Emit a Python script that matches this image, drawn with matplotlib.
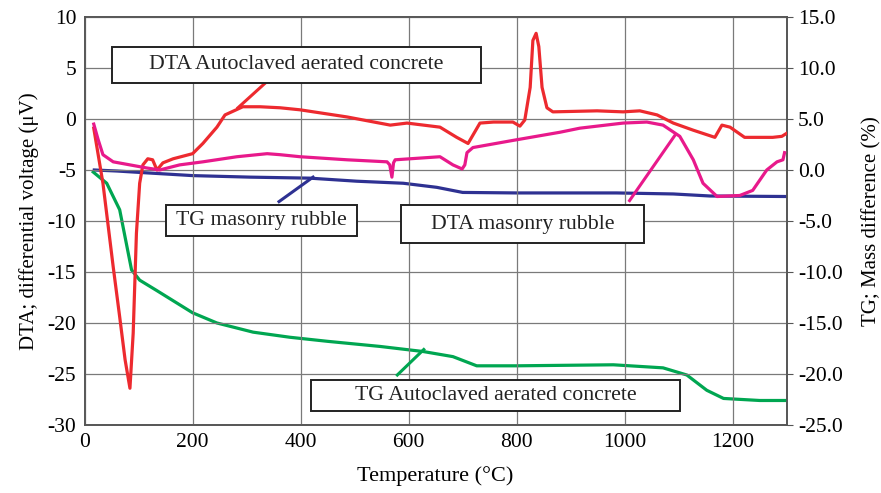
import matplotlib
matplotlib.use("Agg")
import matplotlib.pyplot as plt
from matplotlib.patches import Rectangle

# ---------------------------------------------------------------- data
# DTA Autoclaved aerated concrete (left axis, uV)
dta_aac_t = [17, 34, 53, 65, 75, 84, 90, 96, 102, 108, 117, 126, 134, 145, 164, 200, 219, 245,
             260, 293, 325, 362, 399, 486, 566, 597, 658, 689, 710, 732, 757, 793, 806, 815,
             825, 830, 836, 841, 847, 856, 867, 949, 997, 1028, 1060, 1090, 1127, 1167, 1180,
             1195, 1222, 1274, 1291, 1300]
dta_aac_v = [-0.9, -6.3, -14.5, -19.4, -23.6, -26.4, -21.0, -11.2, -6.3, -4.5, -3.9, -4.0, -5.0,
             -4.3, -3.9, -3.4, -2.4, -0.8, 0.4, 1.2, 1.2, 1.1, 0.9, 0.2, -0.6, -0.4, -0.8, -1.8,
             -2.4, -0.4, -0.3, -0.3, -0.7, -0.1, 3.1, 7.7, 8.4, 7.1, 3.1, 1.1, 0.7, 0.8, 0.7,
             0.8, 0.4, -0.4, -1.1, -1.8, -0.6, -0.8, -1.8, -1.8, -1.7, -1.4]

# DTA masonry rubble (left axis, uV)
dta_mr_t = [17, 25, 34, 53, 84, 115, 139, 176, 219, 282, 338, 362, 399, 486, 560, 565, 569, 572,
            575, 658, 682, 699, 704, 708, 719, 793, 880, 917, 997, 1041, 1071, 1102, 1127, 1145,
            1171, 1213, 1237, 1263, 1282, 1293, 1296]
dta_mr_v = [-0.5, -2.0, -3.5, -4.2, -4.5, -4.8, -5.0, -4.5, -4.2, -3.7, -3.4, -3.5, -3.7, -4.0,
            -4.2, -4.5, -5.7, -4.3, -4.0, -3.7, -4.5, -4.9, -4.5, -3.3, -2.8, -2.1, -1.3, -0.9,
            -0.4, -0.3, -0.6, -1.7, -4.0, -6.3, -7.6, -7.5, -7.0, -5.0, -4.2, -4.0, -3.3]

# TG masonry rubble (right axis, %)
tg_mr_t = [18, 60, 121, 200, 306, 417, 504, 590, 652, 700, 800, 985, 1090, 1158, 1300]
tg_mr_v = [0.0, -0.1, -0.3, -0.55, -0.7, -0.8, -1.1, -1.3, -1.7, -2.2, -2.25, -2.25, -2.35,
           -2.55, -2.6]

# TG Autoclaved aerated concrete (right axis, %)
tg_aac_t = [16, 41, 65, 87, 102, 133, 200, 245, 312, 380, 450, 547, 627, 682, 726, 800, 979,
            1071, 1115, 1152, 1183, 1250, 1300]
tg_aac_v = [-0.2, -1.3, -3.9, -9.8, -10.8, -11.8, -14.0, -15.0, -15.9, -16.4, -16.8, -17.3,
            -17.8, -18.3, -19.2, -19.2, -19.1, -19.4, -20.1, -21.6, -22.4, -22.6, -22.6]

x_ticks = [0, 200, 400, 600, 800, 1000, 1200]
left_ticks = [10, 5, 0, -5, -10, -15, -20, -25, -30]
right_ticks = [15, 10, 5, 0, -5, -10, -15, -20, -25]

# label boxes: text, box (x0, x1, y0, y1) in left-axis data, leader line, colour
labels = [
    ("DTA Autoclaved aerated concrete", (51, 734, 3.5, 7.1), ((284, 1.1), (334, 3.5)), "#ED2A2F"),
    ("TG masonry rubble", (151, 504, -11.5, -8.4), ((360, -8.1), (423, -5.7)), "#2E3192"),
    ("DTA masonry rubble", (586, 1036, -12.2, -8.4), ((1009, -8.0), (1093, -1.6)), "#E8198B"),
    ("TG Autoclaved aerated concrete", (419, 1102, -28.6, -25.6), ((579, -25.1), (628, -22.6)), "#00A651"),
]

# ---------------------------------------------------------------- plot
plt.rcParams["font.family"] = ["Liberation Serif", "DejaVu Serif"]
plt.rcParams["axes.unicode_minus"] = False
fig = plt.figure(figsize=(8.81, 4.93), dpi=100)
ax = fig.add_axes([0.096, 0.138, 0.797, 0.8275])
ax2 = ax.twinx()

lw = 2.3
ax.plot(dta_aac_t, dta_aac_v, color="#ED2A2F", lw=lw, zorder=3)
ax.plot(dta_mr_t, dta_mr_v, color="#E8198B", lw=lw, zorder=3)
ax2.plot(tg_mr_t, tg_mr_v, color="#2E3192", lw=lw, zorder=3)
ax2.plot(tg_aac_t, tg_aac_v, color="#00A651", lw=lw, zorder=3)

ax.set_xlim(0, 1300)
ax.set_ylim(-30, 10)
ax2.set_ylim(-25, 15)
ax.set_xticks(x_ticks)
ax.set_yticks(left_ticks)
ax2.set_yticks(right_ticks)
ax2.set_yticklabels([f"{v:.1f}" for v in right_ticks])

ax.grid(True, color="#7a7a7a", lw=0.9)
ax.set_axisbelow(True)
for a in (ax, ax2):
    for s in a.spines.values():
        s.set_color("#555555")
        s.set_linewidth(1.2)
ax.tick_params(axis="both", length=0, labelsize=15.5, pad=6)
ax2.tick_params(axis="y", length=4, color="#555555", labelsize=15.5, pad=4)

ax.set_xlabel("Temperature (°C)", fontsize=16, labelpad=10)
ax.set_ylabel("DTA; differential voltage (μV)", fontsize=15, labelpad=6)
ax2.set_ylabel("TG; Mass difference (%)", fontsize=15, labelpad=14)

# move label layer above twin axis
ax.set_zorder(ax2.get_zorder() + 1)
ax.patch.set_visible(False)

for text, (x0, x1, y0, y1), (p0, p1), col in labels:
    ax.plot([p0[0], p1[0]], [p0[1], p1[1]], color=col, lw=2.2, zorder=4)
    ax.add_patch(Rectangle((x0, y0), x1 - x0, y1 - y0, facecolor="white",
                           edgecolor="#222222", lw=1.4, zorder=5))
    ax.text((x0 + x1) / 2, (y0 + y1) / 2, text, ha="center", va="center",
            fontsize=15.7, color="#222222", zorder=6)

fig.savefig("out.png", dpi=100)
